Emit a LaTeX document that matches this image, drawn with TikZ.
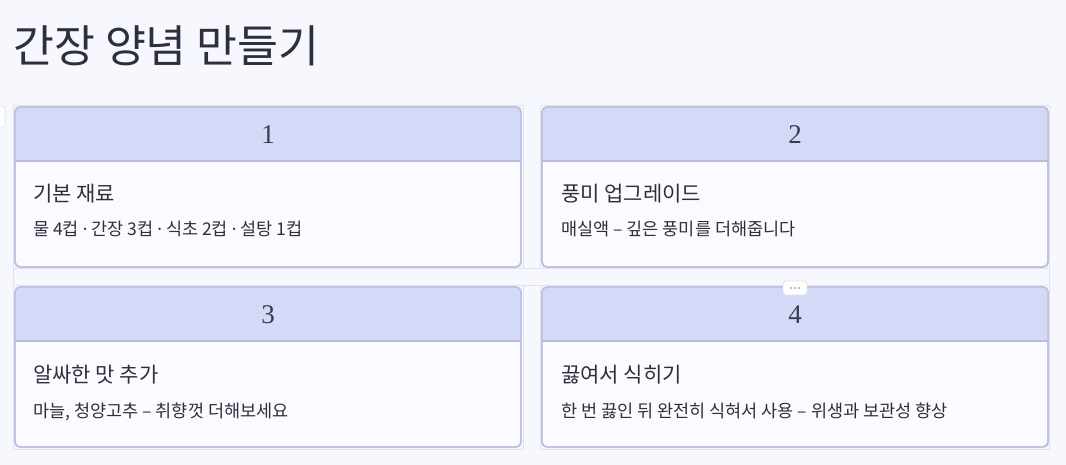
\documentclass[tikz,border=0pt]{standalone}
\usepackage{fontspec}
\setmainfont{Noto Sans CJK KR}
\newfontfamily\numfont{Liberation Serif}
\newfontfamily\latinfont{Noto Sans}
\newcommand{\mdot}{{\latinfont ·}}
\definecolor{bgc}{HTML}{F7F8FD}
\definecolor{hdrfill}{HTML}{D3D9F7}
\definecolor{cardfill}{HTML}{FBFBFF}
\definecolor{cardline}{HTML}{B6BDDF}
\definecolor{gridline}{HTML}{E2E3EA}
\definecolor{txt}{HTML}{2E2F3E}
\definecolor{hdrtxt}{HTML}{3A3B50}
\tikzset{
  cell/.style={draw=gridline, line width=0.8pt},
  card/.style={draw=cardline, line width=1.4pt, fill=cardfill, rounded corners=5pt},
  num/.style={font=\numfont\fontsize{27}{27}\selectfont, text=hdrtxt, inner sep=0pt},
  ctitle/.style={font=\fontsize{21}{21}\selectfont, text=txt, inner sep=0pt, anchor=base west},
  csub/.style={font=\fontsize{17.5}{17.5}\selectfont, text=txt, inner sep=0pt, anchor=base west},
  tab/.style={draw=gridline, line width=0.8pt, fill=white, rounded corners=3pt}
}
\begin{document}
\begin{tikzpicture}[x=1pt,y=-1pt]
\fill[bgc] (0,0) rectangle (1066,465);
\useasboundingbox (0,0) rectangle (1066,465);
% grid frame
\draw[cell] (13,105) rectangle (523,268);
\draw[cell] (540,105) rectangle (1049,268);
\draw[cell] (13,285) rectangle (523,449);
\draw[cell] (540,285) rectangle (1049,449);
\draw[cell] (523,268) -- (540,268) (523,285) -- (540,285) (13,268) -- (13,285) (1049,268) -- (1049,285);
% left tab
\draw[tab] (-6,106) rectangle (5,127);
% title
\node[font=\fontsize{44.5}{44.5}\selectfont, text=txt, inner sep=0pt, anchor=base west] (title) at (13,63) {간장 양념 만들기};
% cards
\foreach \n/\x/\y in {1/15/107, 2/542/107, 3/15/287, 4/542/287}{
  \begin{scope}
    \path[card] (\x,\y) rectangle ++(506,160);
    \begin{scope}
      \clip[rounded corners=5pt] (\x,\y) rectangle ++(506,160);
      \fill[hdrfill] (\x,\y) rectangle ++(506,54);
    \end{scope}
    \draw[cardline, line width=1.2pt] (\x,\y+54) -- ++(506,0);
    \draw[card, fill=none] (\x,\y) rectangle ++(506,160);
    \node[num] (num\n) at (\x+253,\y+28) {\n};
  \end{scope}
}
\node[ctitle] (t1) at (33,202) {기본 재료};
\node[csub] (s1) at (33,236) {물 4컵 \mdot{} 간장 3컵 \mdot{} 식초 2컵 \mdot{} 설탕 1컵};
\node[ctitle] (t2) at (561,202) {풍미 업그레이드};
\node[csub] (s2) at (561,236) {매실액 – 깊은 풍미를 더해줍니다};
\node[ctitle] (t3) at (33,382) {알싸한 맛 추가};
\node[csub] (s3) at (33,417) {마늘, 청양고추 – 취향껏 더해보세요};
\node[ctitle] (t4) at (561,382) {끓여서 식히기};
\node[csub] (s4) at (561,417) {한 번 끓인 뒤 완전히 식혀서 사용 – 위생과 보관성 향상};
% dots tab
\draw[tab] (783,281) rectangle (807,295);
\node[inner sep=0pt] (dots) at (795,288) {};
\foreach \dx in {-4,0,4}{\fill[gray!80] (795+\dx,288) circle (1pt);}
\end{tikzpicture}
\end{document}
